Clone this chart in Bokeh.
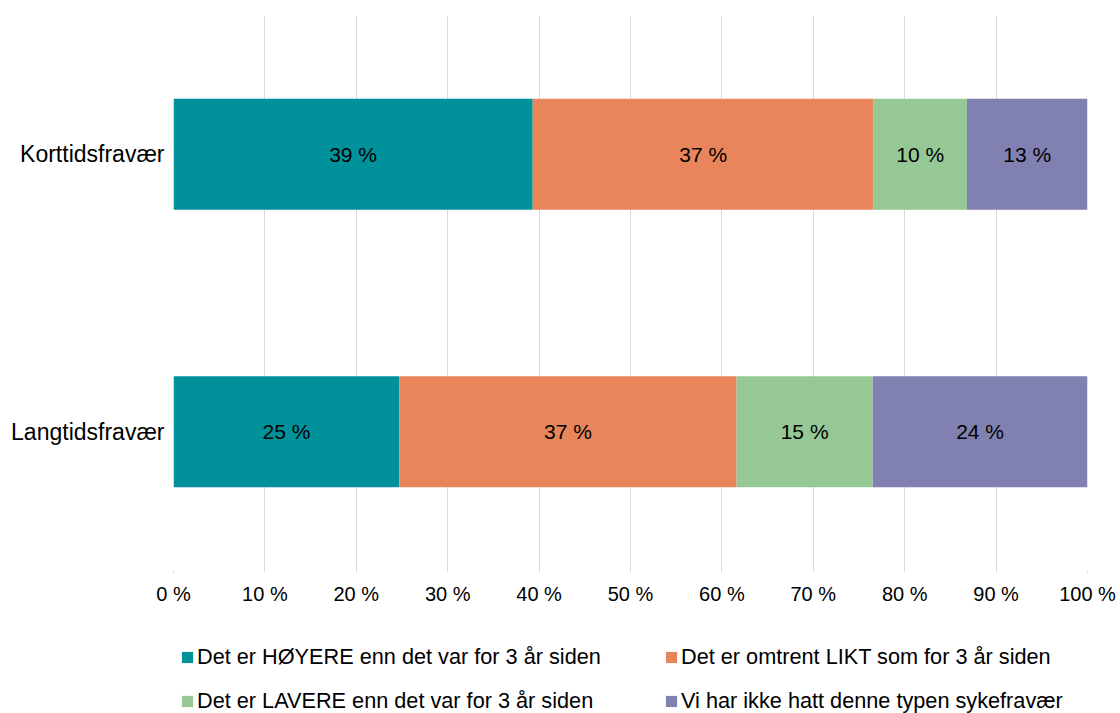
import numpy as np
import pandas as pd
from bokeh.plotting import figure
from bokeh.layouts import column
from bokeh.models import (ColumnDataSource, FactorRange, Range1d, Legend, LegendItem,
                          PrintfTickFormatter, FixedTicker)
from bokeh.core.properties import value
from bokeh.embed import file_html
from bokeh.resources import INLINE

# ---------------- data ----------------
categories = ["Korttidsfravær", "Langtidsfravær"]
series_names = [
    "Det er HØYERE enn det var for 3 år siden",
    "Det er omtrent LIKT som for 3 år siden",
    "Det er LAVERE enn det var for 3 år siden",
    "Vi har ikke hatt denne typen sykefravær",
]
hoyere = [39.3, 24.7]
likt = [37.3, 36.9]
lavere = [10.2, 14.9]
ikke = [13.2, 23.5]
colors = ["#00919A", "#E8855B", "#96C896", "#8181B1"]
x_ticks = [0, 10, 20, 30, 40, 50, 60, 70, 80, 90, 100]

FONT = "Liberation Sans"
W = 1120
H_MAIN = 640
H_LEG = 73
keys = ["s0", "s1", "s2", "s3"]
series = [hoyere, likt, lavere, ikke]

source = ColumnDataSource(dict(cat=categories, s0=hoyere, s1=likt, s2=lavere, s3=ikke))

# label positions (centre of each stacked segment)
lab_x, lab_y, lab_t = [], [], []
for ci, cat in enumerate(categories):
    left = 0.0
    for s in series:
        v = s[ci]
        lab_x.append(left + v / 2.0)
        lab_y.append(cat)
        lab_t.append(f"{int(v + 0.5)} %")
        left += v
lab_src = ColumnDataSource(dict(x=lab_x, y=lab_y, t=lab_t))

p = figure(width=W, height=H_MAIN, output_backend="svg", toolbar_location=None,
           y_range=FactorRange(factors=list(reversed(categories)), range_padding=0),
           x_range=Range1d(0, 100),
           min_border_left=173, min_border_right=33, min_border_top=15, min_border_bottom=70)
p.outline_line_color = None
p.background_fill_color = "white"
p.border_fill_color = "white"

renderers = p.hbar_stack(keys, y="cat", height=0.4, color=colors, line_color=None, source=source)

p.text(x="x", y="y", text="t", source=lab_src, text_align="center", text_baseline="middle",
       text_font=value(FONT), text_font_size="21px", text_color="#000000")

# axes
p.xaxis.ticker = FixedTicker(ticks=x_ticks)
p.xaxis.formatter = PrintfTickFormatter(format="%d %%")
p.xaxis.axis_line_color = None
p.xaxis.major_tick_in = 0
p.xaxis.major_tick_out = 2
p.xaxis.major_tick_line_color = "#d9d9d9"
p.xaxis.minor_tick_line_color = None
p.xaxis.major_label_standoff = 10
p.xaxis.major_label_text_font = FONT
p.xaxis.major_label_text_font_size = "20px"
p.xaxis.major_label_text_color = "#000000"

p.yaxis.axis_line_color = None
p.yaxis.major_tick_line_color = None
p.yaxis.minor_tick_line_color = None
p.yaxis.major_label_standoff = 3
p.yaxis.major_label_text_font = FONT
p.yaxis.major_label_text_font_size = "23px"
p.yaxis.major_label_text_color = "#000000"

p.xgrid.grid_line_color = "#d9d9d9"
p.ygrid.grid_line_color = None

# ---------------- legend strip ----------------
q = figure(width=W, height=H_LEG, output_backend="svg", toolbar_location=None,
           x_range=Range1d(0, 1), y_range=Range1d(0, 1),
           min_border_left=173, min_border_right=33, min_border_top=0, min_border_bottom=0)
q.axis.visible = False
q.grid.visible = False
q.outline_line_color = None
q.background_fill_color = "white"
q.border_fill_color = "white"

# legend-only proxies (placed outside the visible range)
proxy = ColumnDataSource(dict(y=[-5.0], right=[-4.0]))
leg_renderers = [q.hbar(y="y", right="right", left=-5.0, height=0.5, color=c, line_color=None,
                        source=proxy) for c in colors]

legend = Legend(
    items=[LegendItem(label=n, renderers=[r]) for n, r in zip(series_names, leg_renderers)],
    location=(7, -1), orientation="horizontal", ncols=2,
    glyph_width=14, glyph_height=14, label_standoff=3, spacing=18,
    label_height=21, label_width=449, padding=0, margin=0,
    border_line_color=None, background_fill_alpha=0,
    label_text_font=FONT, label_text_font_size="21.7px", label_text_color="#000000",
)
q.add_layout(legend, "center")

layout = column(p, q, spacing=0)
open("out.html", "w").write(file_html(layout, INLINE))
